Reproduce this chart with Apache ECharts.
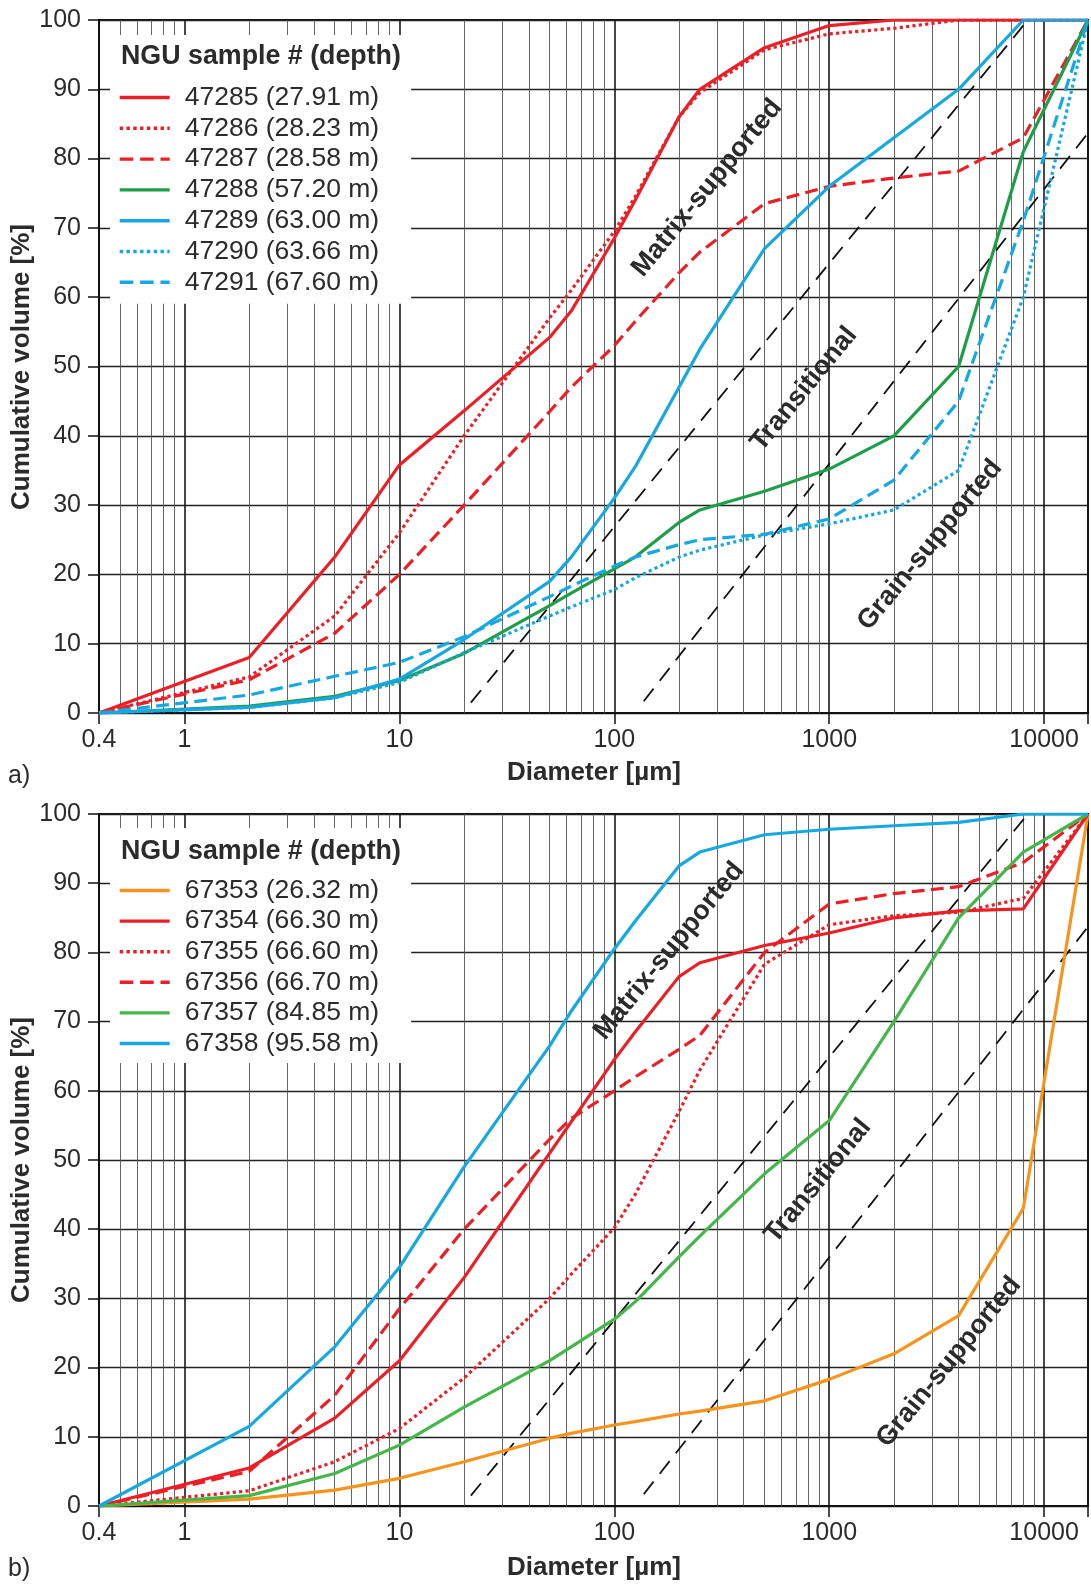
<!DOCTYPE html>
<html>
<head>
<meta charset="utf-8">
<title>Grain size distribution</title>
<script src="https://cdn.jsdelivr.net/npm/echarts@6.0.0/dist/echarts.min.js"></script>
<style>
  html, body { margin: 0; padding: 0; background: #fff; }
  #main { width: 1091px; height: 1584px; }
</style>
</head>
<body>
<div id="main"></div>
<script type="text/javascript">
// sieve / laser sizes (µm)
var sizes = [0.4, 2, 5, 10, 20, 50, 63, 100, 125, 200, 250, 500, 1000, 2000, 4000, 8000, 16000];

// panel a)
var namesA = ['47285 (27.91 m)', '47286 (28.23 m)', '47287 (28.58 m)', '47288 (57.20 m)',
              '47289 (63.00 m)', '47290 (63.66 m)', '47291 (67.60 m)'];
var s47285 = [0, 8, 22.5, 35.8, 43.6, 54.2, 58, 68.5, 74, 86, 90, 96, 99.2, 100, 100, 100, 100];
var s47286 = [0, 5.2, 14, 26, 40, 57, 61, 69.5, 74.5, 86, 89.5, 95.7, 98, 98.8, 100, 100, 100];
var s47287 = [0, 4.8, 11.5, 20, 30, 43.5, 47, 53, 56.5, 63.5, 66.5, 73.5, 76, 77.2, 78.2, 83, 100];
var s47288 = [0, 1, 2.4, 4.7, 8.6, 15.5, 17.3, 20.8, 22.5, 27.5, 29.3, 32, 35.2, 40, 50, 81, 100];
var s47289 = [0, 0.8, 2.2, 4.9, 10.6, 19, 22.5, 31, 35.5, 47, 52.5, 67, 76, 83, 90, 100, 100];
var s47290 = [0, 0.8, 2.2, 4.4, 8.7, 14, 15.3, 17.8, 19.5, 22.5, 23.5, 25.7, 27.3, 29.3, 35, 60, 100];
var s47291 = [0, 2.6, 5.3, 7.3, 11, 16.8, 18.3, 21.2, 22.5, 24.3, 25, 25.8, 28, 33.6, 45, 71, 100];

// panel b)
var namesB = ['67353 (26.32 m)', '67354 (66.30 m)', '67355 (66.60 m)', '67356 (66.70 m)',
              '67357 (84.85 m)', '67358 (95.58 m)'];
var s67353 = [0, 1, 2.3, 4, 6.4, 9.8, 10.5, 11.7, 12.2, 13.3, 13.7, 15.2, 18.3, 22, 27.5, 43, 100];
var s67354 = [0, 5.5, 12.7, 21, 33, 51, 55.5, 64.5, 68.5, 76.5, 78.5, 81, 82.8, 85, 86, 86.3, 100];
var s67355 = [0, 2.2, 6.4, 11.2, 18.5, 30, 33.5, 40.2, 45, 57, 63, 78.3, 84, 85.3, 85.8, 87.8, 100];
var s67356 = [0, 5, 16, 28.5, 40, 53, 56, 60, 62, 66, 68, 80, 87, 88.5, 89.5, 93, 100];
var s67357 = [0, 1.5, 4.7, 8.8, 14.3, 21, 23, 27, 29.5, 36, 39, 48, 55.7, 70, 85, 94.5, 100];
var s67358 = [0, 11.5, 23, 34.5, 49, 66.5, 71.5, 80.5, 84.5, 92.5, 94.5, 97, 97.8, 98.3, 98.8, 100, 100];

// dashed boundary lines (same in both panels)
var boundary1 = [[21.5, 1.5], [8400, 100]];
var boundary2 = [[137, 1.7], [16000, 83.7]];

// axis ticks
var xLabelValues = [0.4, 1, 10, 100, 1000, 10000];
var minorGridValues = [0.5, 0.6, 0.7, 0.8, 0.9,
  2, 3, 4, 5, 6, 7, 8, 9,
  20, 30, 40, 50, 60, 70, 80, 90,
  200, 300, 400, 500, 600, 700, 800, 900,
  2000, 3000, 4000, 5000, 6000, 7000, 8000, 9000];

var RED = '#ec1f26', GREEN_A = '#1f9e4a', GREEN_B = '#45b649', BLUE = '#16a8e1', ORANGE = '#f7941d';
var FONT = '"Liberation Sans", Arial, Helvetica, sans-serif';
var TXT = '#2b2b2b';

function curve(name, values, color, type, idx) {
    return {
        name: name,
        type: 'line',
        xAxisIndex: idx,
        yAxisIndex: idx,
        data: sizes.map(function (s, i) { return [s, values[i]]; }),
        symbol: 'none',
        lineStyle: { color: color, width: 3.2, type: type },
        itemStyle: { color: color },
        z: 3,
        silent: true
    };
}

function boundary(data, idx, withMinorGrid) {
    var s = {
        type: 'line',
        xAxisIndex: idx,
        yAxisIndex: idx,
        data: data,
        symbol: 'none',
        lineStyle: { color: '#111', width: 1.8, type: [16, 10] },
        z: 2,
        silent: true
    };
    if (withMinorGrid) {
        // thin grid lines at 2..9 of every decade
        s.markLine = {
            z: 1,
            silent: true,
            symbol: ['none', 'none'],
            label: { show: false },
            lineStyle: { color: '#555', width: 0.9, type: 'solid' },
            emphasis: { disabled: true },
            data: minorGridValues.map(function (v) { return { xAxis: v }; })
        };
    }
    return s;
}

function xAxis(idx) {
    return {
        type: 'log',
        gridIndex: idx,
        logBase: 10,
        min: 0.4,
        max: 16000,
        axisLine: { show: true, lineStyle: { color: '#111', width: 2 } },
        axisTick: { show: true, length: 11, lineStyle: { color: '#111', width: 1.5 } },
        axisLabel: {
            interval: 0,
            margin: 15,
            fontSize: 25,
            fontFamily: FONT,
            color: TXT,
            formatter: function (v) {
                for (var i = 0; i < xLabelValues.length; i++) {
                    if (Math.abs(v - xLabelValues[i]) < xLabelValues[i] * 1e-6) return String(xLabelValues[i]);
                }
                return '';
            }
        },
        splitLine: { show: true, lineStyle: { color: '#1a1a1a', width: 1.6 } },
        minorTick: { show: false },
        minorSplitLine: { show: false }
    };
}

function yAxis(idx) {
    return {
        type: 'value',
        gridIndex: idx,
        min: 0,
        max: 100,
        interval: 10,
        axisLine: { show: true, lineStyle: { color: '#111', width: 2 } },
        axisTick: { show: true, length: 11, lineStyle: { color: '#111', width: 1.5 } },
        axisLabel: { margin: 18, fontSize: 25, fontFamily: FONT, color: TXT },
        splitLine: { show: true, lineStyle: { color: '#222', width: 1.3 } }
    };
}

function legend(names, top, padTop, padBottom, gap) {
    return {
        data: names,
        orient: 'vertical',
        left: 110,
        top: top,
        padding: [padTop, 32, padBottom, 8],
        itemWidth: 50,
        itemHeight: 26,
        itemGap: gap,
        backgroundColor: '#fff',
        selectedMode: false,
        z: 4,
        itemStyle: { opacity: 0 },
        lineStyle: { width: 3.4 },
        textStyle: { fontSize: 26.5, lineHeight: 26, fontFamily: FONT, color: TXT, padding: [0, 0, 0, 10] }
    };
}

function label(text, x, y, opts) {
    var style = {
        text: text,
        x: 0, y: 0,
        fill: TXT,
        font: (opts.bold ? 'bold ' : '') + opts.size + 'px ' + FONT,
        align: opts.align || 'center',
        verticalAlign: 'middle'
    };
    return { type: 'text', x: x, y: y, rotation: opts.rot || 0, z: 100, silent: true, style: style };
}

var ROT = 50.7 * Math.PI / 180;
var graphics = [
    label('NGU sample # (depth)', 121, 57, { bold: true, size: 26.8, align: 'left' }),
    label('NGU sample # (depth)', 121, 852, { bold: true, size: 26.8, align: 'left' }),
    label('Cumulative volume [%]', 22, 367, { bold: true, size: 26, rot: Math.PI / 2 }),
    label('Cumulative volume [%]', 22, 1160, { bold: true, size: 26, rot: Math.PI / 2 }),
    label('Diameter [µm]', 594, 773, { bold: true, size: 26 }),
    label('Diameter [µm]', 594, 1568, { bold: true, size: 26 }),
    label('a)', 8, 776, { size: 25, align: 'left' }),
    label('b)', 8, 1569, { size: 25, align: 'left' }),
    label('Matrix-supported', 707, 188, { bold: true, size: 27, rot: ROT }),
    label('Transitional', 804, 389, { bold: true, size: 27, rot: ROT }),
    label('Grain-supported', 930, 545, { bold: true, size: 27, rot: ROT }),
    label('Matrix-supported', 669, 951, { bold: true, size: 27, rot: ROT }),
    label('Transitional', 818, 1181, { bold: true, size: 27, rot: ROT }),
    label('Grain-supported', 949, 1362, { bold: true, size: 27, rot: ROT })
];

var myChart = echarts.init(document.getElementById('main'), null, { renderer: 'canvas' });

var option = {
    animation: false,
    backgroundColor: '#fff',
    grid: [
        { left: 99, top: 20, width: 990, height: 693, show: true, borderColor: '#111', borderWidth: 2, backgroundColor: 'transparent' },
        { left: 99, top: 814, width: 990, height: 692, show: true, borderColor: '#111', borderWidth: 2, backgroundColor: 'transparent' }
    ],
    xAxis: [xAxis(0), xAxis(1)],
    yAxis: [yAxis(0), yAxis(1)],
    legend: [
        legend(namesA, 35, 49, 8, 3.8),
        legend(namesB, 828, 49, 6, 3.6)
    ],
    graphic: graphics,
    series: [
        boundary(boundary1, 0, true),
        boundary(boundary2, 0, false),
        curve(namesA[0], s47285, RED, 'solid', 0),
        curve(namesA[1], s47286, RED, 'dotted', 0),
        curve(namesA[2], s47287, RED, 'dashed', 0),
        curve(namesA[3], s47288, GREEN_A, 'solid', 0),
        curve(namesA[4], s47289, BLUE, 'solid', 0),
        curve(namesA[5], s47290, BLUE, 'dotted', 0),
        curve(namesA[6], s47291, BLUE, 'dashed', 0),

        boundary(boundary1, 1, true),
        boundary(boundary2, 1, false),
        curve(namesB[0], s67353, ORANGE, 'solid', 1),
        curve(namesB[1], s67354, RED, 'solid', 1),
        curve(namesB[2], s67355, RED, 'dotted', 1),
        curve(namesB[3], s67356, RED, 'dashed', 1),
        curve(namesB[4], s67357, GREEN_B, 'solid', 1),
        curve(namesB[5], s67358, BLUE, 'solid', 1)
    ]
};

myChart.setOption(option);
</script>
</body>
</html>
